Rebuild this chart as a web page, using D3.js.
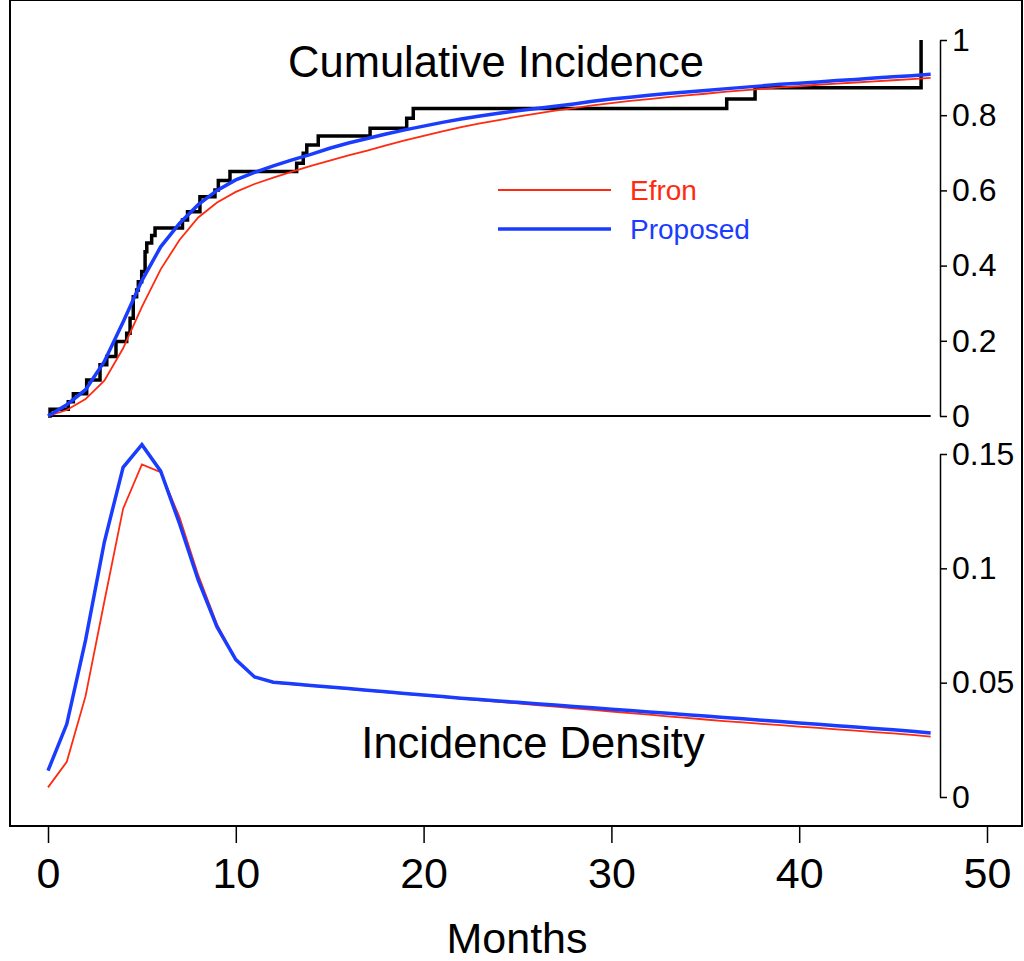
<!DOCTYPE html>
<html>
<head>
<meta charset="utf-8">
<script src="https://cdn.jsdelivr.net/npm/d3@7"></script>
<style>
  body { margin: 0; background: #fff; }
  svg { display: block; font-family: "Liberation Sans", Arial, sans-serif; }
</style>
</head>
<body>
<div id="chart"></div>
<script>
// ---- data ----
const months = d3.range(0, 48);

// cumulative incidence, monthly
const cumEfron = [0, .016, .045, .094, .18, .29, .39, .468, .528, .568, .596, .617,
  .634, .65, .665, .679, .693, .706, .72, .733, .745, .757, .768, .778, .787, .796,
  .804, .812, .819, .826, .832, .838, .843, .848, .853, .857, .862, .866, .870, .874,
  .877, .881, .884, .887, .890, .893, .896, .899];
const cumProposed = [0, .03, .07, .145, .25, .36, .45, .512, .562, .60, .628, .648,
  .665, .681, .696, .712, .726, .738, .750, .761, .771, .781, .790, .798, .805, .812,
  .818, .824, .830, .837, .843, .848, .853, .858, .862, .866, .870, .874, .878, .882,
  .885, .888, .892, .895, .899, .902, .905, .909];

// empirical step function: [month, level]
const stepMonths = [0, .11, 1.08, 1.35, 2.06, 2.77, 3.13, 3.62, 4.19, 4.37, 4.54, 4.72,
  4.81, 4.99, 5.17, 5.26, 5.52, 5.70, 7.16, 7.43, 8.09, 8.89, 9.07, 9.69, 13.24, 13.59,
  13.78, 14.39, 17.15, 19.1, 19.45, 36.14, 37.65, 46.49];
const stepLevels = [0, .018, .038, .059, .096, .136, .158, .198, .22, .26, .317, .335,
  .357, .384, .437, .46, .48, .50, .521, .543, .583, .601, .626, .65, .672, .699,
  .721, .745, .765, .792, .818, .843, .873, 1.0];

// incidence density, monthly
const denEfron = [.0042, .0154, .0441, .0855, .1261, .1454, .142, .1224, .097, .0755,
  .0601, .0525, .0500, .0493, .0486, .0479, .0472, .0465, .0458, .0451, .0444, .0437,
  .0430, .0423, .0416, .0409, .0402, .0395, .0388, .0381, .0374, .0367, .0360, .0353,
  .0346, .0339, .0332, .0326, .0320, .0314, .0308, .0302, .0296, .0290, .0284, .0278,
  .0272, .0264];
const denProposed = [.0115, .0319, .0686, .1115, .1442, .1541, .1425, .1196, .0948, .0744,
  .0601, .0525, .0502, .0495, .0488, .0481, .0474, .0467, .0460, .0453, .0446, .0439,
  .0432, .0426, .0420, .0414, .0408, .0402, .0396, .0390, .0384, .0378, .0372, .0366,
  .0360, .0354, .0348, .0342, .0336, .0330, .0324, .0318, .0312, .0306, .0300, .0294,
  .0288, .0280];

const xTicks = [0, 10, 20, 30, 40, 50];
const topTicks = [0, 0.2, 0.4, 0.6, 0.8, 1];
const botTicks = [0, 0.05, 0.1, 0.15];
const legendLabels = ["Efron", "Proposed"];

const RED = "#ff2a10", BLUE = "#1a3cff";

// ---- drawing ----
const width = 1024, height = 961;
const svg = d3.select("#chart").append("svg")
  .attr("width", width).attr("height", height);

const x = d3.scaleLinear().domain([0, 50]).range([48, 987]);
const yTop = d3.scaleLinear().domain([0, 1]).range([416, 40]);
const yBot = d3.scaleLinear().domain([0, 0.15]).range([797, 454]);

// frame
svg.append("rect")
  .attr("x", 10).attr("y", 0).attr("width", 1012).attr("height", 826)
  .attr("fill", "none").attr("stroke", "#000").attr("stroke-width", 2);

// x axis
const xAxis = svg.append("g")
  .attr("transform", "translate(0,826)")
  .call(d3.axisBottom(x).tickValues(xTicks).tickSize(17).tickPadding(14).tickFormat(d3.format("d")));
xAxis.select(".domain").remove();
xAxis.selectAll("line").attr("stroke-width", 1.5);
xAxis.selectAll("text").attr("font-size", 43).attr("font-family", "Liberation Sans, Arial, sans-serif").attr("fill", "#000");

svg.append("text")
  .attr("x", 517).attr("y", 953)
  .attr("text-anchor", "middle").attr("font-size", 43)
  .text("Months");

// right axes
function rightAxis(scale, ticks, fmt) {
  const g = svg.append("g")
    .attr("transform", "translate(940,0)")
    .call(d3.axisRight(scale).tickValues(ticks).tickSize(7).tickSizeOuter(0).tickPadding(5).tickFormat(fmt));
  g.selectAll("line, path").attr("stroke-width", 1.5);
  g.selectAll("text").attr("font-size", 32).attr("font-family", "Liberation Sans, Arial, sans-serif").attr("fill", "#000");
  return g;
}
rightAxis(yTop, topTicks, d => d === 0 || d === 1 ? String(d) : d3.format(".1f")(d));
rightAxis(yBot, botTicks, d => d === 0 ? "0" : String(+d.toFixed(2)));

// baseline in top panel
svg.append("line")
  .attr("x1", x(0)).attr("x2", x(47))
  .attr("y1", yTop(0)).attr("y2", yTop(0))
  .attr("stroke", "#000").attr("stroke-width", 2);

// top panel curves
const lineTop = d3.line().x(d => x(d[0])).y(d => yTop(d[1]));
const stepLine = d3.line().x(d => x(d[0])).y(d => yTop(d[1])).curve(d3.curveStepAfter);

svg.append("path")
  .datum(stepMonths.map((m, i) => [m, stepLevels[i]]))
  .attr("d", stepLine)
  .attr("fill", "none").attr("stroke", "#000").attr("stroke-width", 3.5);

svg.append("path")
  .datum(months.map((m, i) => [m, cumEfron[i]]))
  .attr("d", lineTop)
  .attr("fill", "none").attr("stroke", RED).attr("stroke-width", 1.8);

svg.append("path")
  .datum(months.map((m, i) => [m, cumProposed[i]]))
  .attr("d", lineTop)
  .attr("fill", "none").attr("stroke", BLUE).attr("stroke-width", 3.5);

// bottom panel curves
const lineBot = d3.line().x(d => x(d[0])).y(d => yBot(d[1]));

svg.append("path")
  .datum(months.map((m, i) => [m, denEfron[i]]))
  .attr("d", lineBot)
  .attr("fill", "none").attr("stroke", RED).attr("stroke-width", 1.8);

svg.append("path")
  .datum(months.map((m, i) => [m, denProposed[i]]))
  .attr("d", lineBot)
  .attr("fill", "none").attr("stroke", BLUE).attr("stroke-width", 3.5);

// titles
svg.append("text")
  .attr("x", 496).attr("y", 77)
  .attr("text-anchor", "middle").attr("font-size", 43.5)
  .text("Cumulative Incidence");

svg.append("text")
  .attr("x", 533).attr("y", 758)
  .attr("text-anchor", "middle").attr("font-size", 43.5)
  .text("Incidence Density");

// legend
const legend = svg.append("g");
legendLabels.forEach((lab, i) => {
  const col = i === 0 ? RED : BLUE;
  const yy = 190 + i * 39;
  legend.append("line")
    .attr("x1", 498).attr("x2", 611).attr("y1", yy).attr("y2", yy)
    .attr("stroke", col).attr("stroke-width", i === 0 ? 1.8 : 3.5);
  legend.append("text")
    .attr("x", 630).attr("y", yy + 10)
    .attr("font-size", 28).attr("fill", col)
    .text(lab);
});
</script>
</body>
</html>
